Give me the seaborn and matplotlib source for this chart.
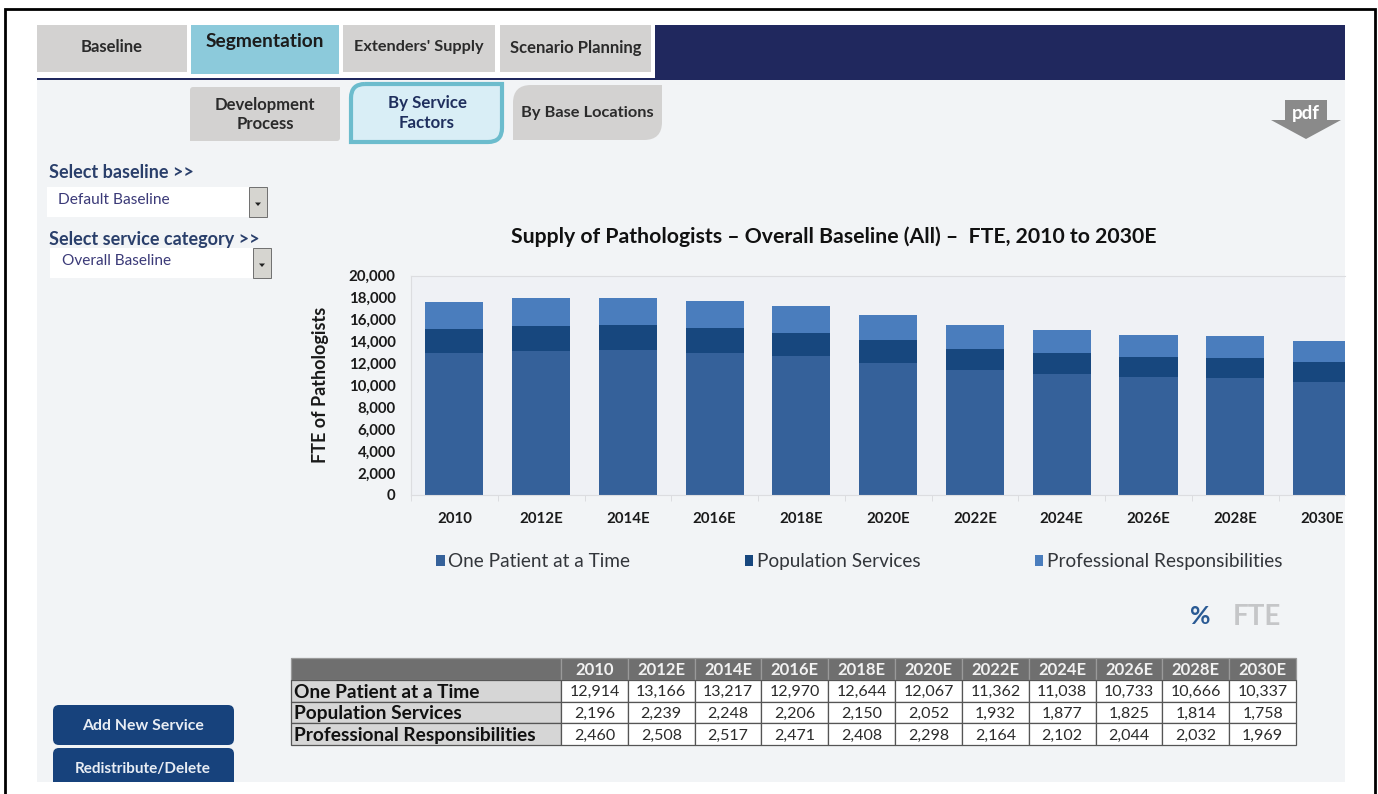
import matplotlib
matplotlib.use('Agg')
import matplotlib.pyplot as plt
import numpy as np
import seaborn as sns
from matplotlib.patches import Rectangle, FancyBboxPatch, Polygon, PathPatch
from matplotlib.path import Path

years = ['2010', '2012E', '2014E', '2016E', '2018E', '2020E', '2022E', '2024E', '2026E', '2028E', '2030E']
one_patient = [12914, 13166, 13217, 12970, 12644, 12067, 11362, 11038, 10733, 10666, 10337]
population = [2196, 2239, 2248, 2206, 2150, 2052, 1932, 1877, 1825, 1814, 1758]
professional = [2460, 2508, 2517, 2471, 2408, 2298, 2164, 2102, 2044, 2032, 1969]
service_names = ['One Patient at a Time', 'Population Services', 'Professional Responsibilities']
service_colors = ['#35619a', '#17477e', '#4a7dbd']
y_ticks = [0, 2000, 4000, 6000, 8000, 10000, 12000, 14000, 16000, 18000, 20000]

W, H = 1378, 794
PANEL = '#f2f4f6'
NAVY = '#20285e'
DARK = '#2b2b2b'
GREY_TAB = '#d3d2d1'

sns.set_theme(style='white')
plt.rcParams['font.family'] = ['Lato', 'DejaVu Sans']

fig = plt.figure(figsize=(W / 100, H / 100), dpi=100, facecolor='white')


def px_axes(x0, y0, x1, y1, zorder):
    # axes placed from pixel box, y measured from top of picture
    return fig.add_axes([x0 / W, 1 - y1 / H, (x1 - x0) / W, (y1 - y0) / H], zorder=zorder)


# background with the dashboard furniture, in pixel coordinates
bg = px_axes(0, 0, W, H, 0)
bg.set_xlim(0, W)
bg.set_ylim(H, 0)
bg.axis('off')

bg.add_patch(Rectangle((4.5, 9), 1370, 800, fc='white', ec='black', lw=2))
bg.add_patch(Rectangle((37, 25), 1308, 757, fc=PANEL, ec='none'))
bg.add_patch(Rectangle((37, 25), 618, 53, fc='white', ec='none'))
bg.add_patch(Rectangle((655, 25), 690, 55, fc=NAVY, ec='none'))
bg.add_patch(Rectangle((37, 77.5), 618, 2.5, fc=NAVY, ec='none'))


def tab(x0, x1, y0, y1, label, color=GREY_TAB, size=12, ty=None, tc=DARK):
    bg.add_patch(Rectangle((x0, y0), x1 - x0, y1 - y0, fc=color, ec='none'))
    bg.text((x0 + x1) / 2, ty if ty else (y0 + y1) / 2 - 1, label, ha='center', va='center',
            fontsize=size, fontweight='bold', color=tc)


tab(37, 187, 25, 72, 'Baseline')
tab(191, 339, 25, 74, 'Segmentation', color='#8ccadb', size=13.8, ty=42, tc='#1c1c1c')
tab(343, 495, 25, 72, "Extenders' Supply", size=11.7)
tab(500, 651, 25, 72, 'Scenario Planning', size=12)


def leaf(x0, x1, y0, y1, r, fc, ec='none', lw=0):
    # tab with top left and bottom right corners rounded
    verts = [(x0 + r, y0), (x1, y0), (x1, y1 - r), (x1, y1), (x1 - r, y1), (x0, y1), (x0, y0 + r), (x0, y0), (x0 + r, y0)]
    codes = [Path.MOVETO, Path.LINETO, Path.LINETO, Path.CURVE3, Path.CURVE3, Path.LINETO, Path.LINETO, Path.CURVE3, Path.CURVE3]
    bg.add_patch(PathPatch(Path(verts, codes), fc=fc, ec=ec, lw=lw))


def rounded(x0, x1, y0, y1, fc, r=6):
    bg.add_patch(FancyBboxPatch((x0 + r, y0 + r), x1 - x0 - 2 * r, y1 - y0 - 2 * r,
                                boxstyle=f'round,pad={r}', fc=fc, ec='none'))


leaf(190, 340, 87, 141, 3, GREY_TAB)
bg.text(265, 114.5, 'Development\nProcess', ha='center', va='center', fontsize=12,
        fontweight='bold', color=DARK, linespacing=1.25)
leaf(351, 502, 84, 142, 14, '#d9eef6', ec='#6cbccd', lw=3)
bg.text(427, 113, 'By Service\nFactors', ha='center', va='center', fontsize=12.2,
        fontweight='bold', color='#1f2f5e', linespacing=1.25)
leaf(513, 662, 85, 140, 18, GREY_TAB)
bg.text(587, 112.5, 'By Base Locations', ha='center', va='center', fontsize=11.8,
        fontweight='bold', color=DARK)

# pdf arrow
bg.add_patch(Polygon([(1285, 100), (1327, 100), (1327, 120), (1341, 120), (1306, 139),
                      (1271, 120), (1285, 120)], fc='#8a8a8a', ec='none'))
bg.text(1306, 114, 'pdf', ha='center', va='center', fontsize=13.5, fontweight='bold', color='white')


def dropdown(x0, x1, y0, y1, label, tx, size):
    bg.add_patch(Rectangle((x0, y0), x1 - x0, y1 - y0, fc='white', ec='none'))
    bg.add_patch(Rectangle((x1 - 18, y0), 18, y1 - y0, fc='#d6d5d0', ec='#6f6f6f', lw=0.7))
    cx = x1 - 9
    cy = (y0 + y1) / 2 + 2
    bg.add_patch(Polygon([(cx - 3, cy - 1.5), (cx + 3, cy - 1.5), (cx, cy + 2)], fc='#222222', ec='none'))
    bg.text(tx, y0 + 13, label, ha='left', va='center', fontsize=size, color='#3b3a78')


bg.text(49, 173, 'Select baseline >>', ha='left', va='center', fontsize=13,
        fontweight='bold', color='#2a3f6b')
dropdown(47, 267, 187, 217, 'Default Baseline', 58, 11.2)
bg.text(49, 239, 'Select service category >>', ha='left', va='center', fontsize=13,
        fontweight='bold', color='#2a3f6b')
dropdown(50, 271, 248, 278, 'Overall Baseline', 62, 11.1)

rounded(53, 234, 705, 745, '#17427c', r=6)
bg.text(143, 726, 'Add New Service', ha='center', va='center', fontsize=11.4,
        fontweight='bold', color='#e8edf4')
rounded(53, 234, 748, 792, '#17427c', r=6)
bg.text(143, 769, 'Redistribute/Delete', ha='center', va='center', fontsize=11,
        fontweight='bold', color='#e8edf4')
bg.add_patch(Rectangle((37, 782), 1308, 10, fc='white', ec='none'))

bg.text(1200, 617, '%', ha='center', va='center', fontsize=18, fontweight='bold', color='#2a5a94')
bg.text(1257, 617, 'FTE', ha='center', va='center', fontsize=20, fontweight='bold', color='#c5c6c8')

bg.text(833.5, 237, 'Supply of Pathologists \u2013 Overall Baseline (All) \u2013  FTE, 2010 to 2030E',
        ha='center', va='center', fontsize=15.3, fontweight='bold', color='#111111')

# the chart itself
ax = px_axes(411, 275.5, 1345, 495, 2)
ax.patch.set_facecolor('#eff1f5')
base = [0] * len(years)
for name, vals, col in zip(service_names, [one_patient, population, professional], service_colors):
    sns.barplot(x=years, y=vals, bottom=base, color=col, width=0.67, saturation=1,
                label=name, errorbar=None, linewidth=0, ax=ax)
    base = [b + v for b, v in zip(base, vals)]

ax.set_xlim(-0.5, 10.265)
ax.set_ylim(0, 20000)
ax.set_yticks(y_ticks)
ax.set_yticklabels([f'{t:,}' for t in y_ticks])
ax.set_xticks(np.arange(-0.5, 10.5), minor=True)
ax.set_ylabel('FTE of Pathologists', fontsize=13, fontweight='bold', color='#1a1a1a', labelpad=14)
ax.set_xlabel('')
ax.tick_params(axis='y', length=6, width=0.7, color='#dcdde0', labelsize=10.8, labelcolor='#1a1a1a', pad=5)
ax.tick_params(axis='x', which='major', length=0, labelsize=10.8, labelcolor='#1a1a1a', pad=12)
ax.tick_params(axis='x', which='minor', bottom=True, length=4, width=0.7, color='#dcdde0')
for lab in ax.get_xticklabels() + ax.get_yticklabels():
    lab.set_fontweight('bold')
sns.despine(ax=ax, right=True, top=False)
for side in ['left', 'bottom', 'top']:
    ax.spines[side].set_color('#dcdde0')
    ax.spines[side].set_linewidth(0.8)

ax.legend(ncol=3, frameon=False, loc='center left', bbox_to_anchor=(25 / 934, -0.303),
          fontsize=13.7, columnspacing=6.0, handlelength=0.45, handleheight=0.5,
          handletextpad=0.2, borderpad=0, borderaxespad=0, labelcolor='#33363b')

# the shot is cut at the panel edge, 2030E label goes with it
cover = px_axes(1345, 500, 1370, 530, 3)
cover.set_facecolor('white')
cover.set_xticks([])
cover.set_yticks([])
for s in cover.spines.values():
    s.set_visible(False)

# table under the chart
tb_ax = px_axes(291, 658, 1296, 745, 2)
tb_ax.axis('off')
header = [''] + years
rows = [[name] + [f'{v:,}' for v in vals]
        for name, vals in zip(service_names, [one_patient, population, professional])]
col_w = [270 / 1005] + [(1005 - 270) / 11 / 1005] * 11
table = tb_ax.table(cellText=[header] + rows, colWidths=col_w, bbox=[0, 0, 1, 1], cellLoc='center')
table.auto_set_font_size(False)
for (r, c), cell in table.get_celld().items():
    cell.set_edgecolor('#555555')
    cell.set_linewidth(0.9)
    txt = cell.get_text()
    txt.set_va('center_baseline')
    if r == 0:
        cell.set_facecolor('#6f6f6f')
        cell.set_edgecolor('#9a9a9a')
        txt.set_color('#f2f2f2')
        txt.set_fontweight('bold')
        txt.set_fontsize(12)
    elif c == 0:
        cell.set_facecolor('#d6d6d6')
        txt.set_ha('left')
        cell.PAD = 0.01
        txt.set_color('#111111')
        txt.set_fontweight('bold')
        txt.set_fontsize(13.8)
    else:
        cell.set_facecolor('white')
        txt.set_color('#2b2b2b')
        txt.set_fontsize(11.5)

fig.savefig('out.png', dpi=100, facecolor='white')
